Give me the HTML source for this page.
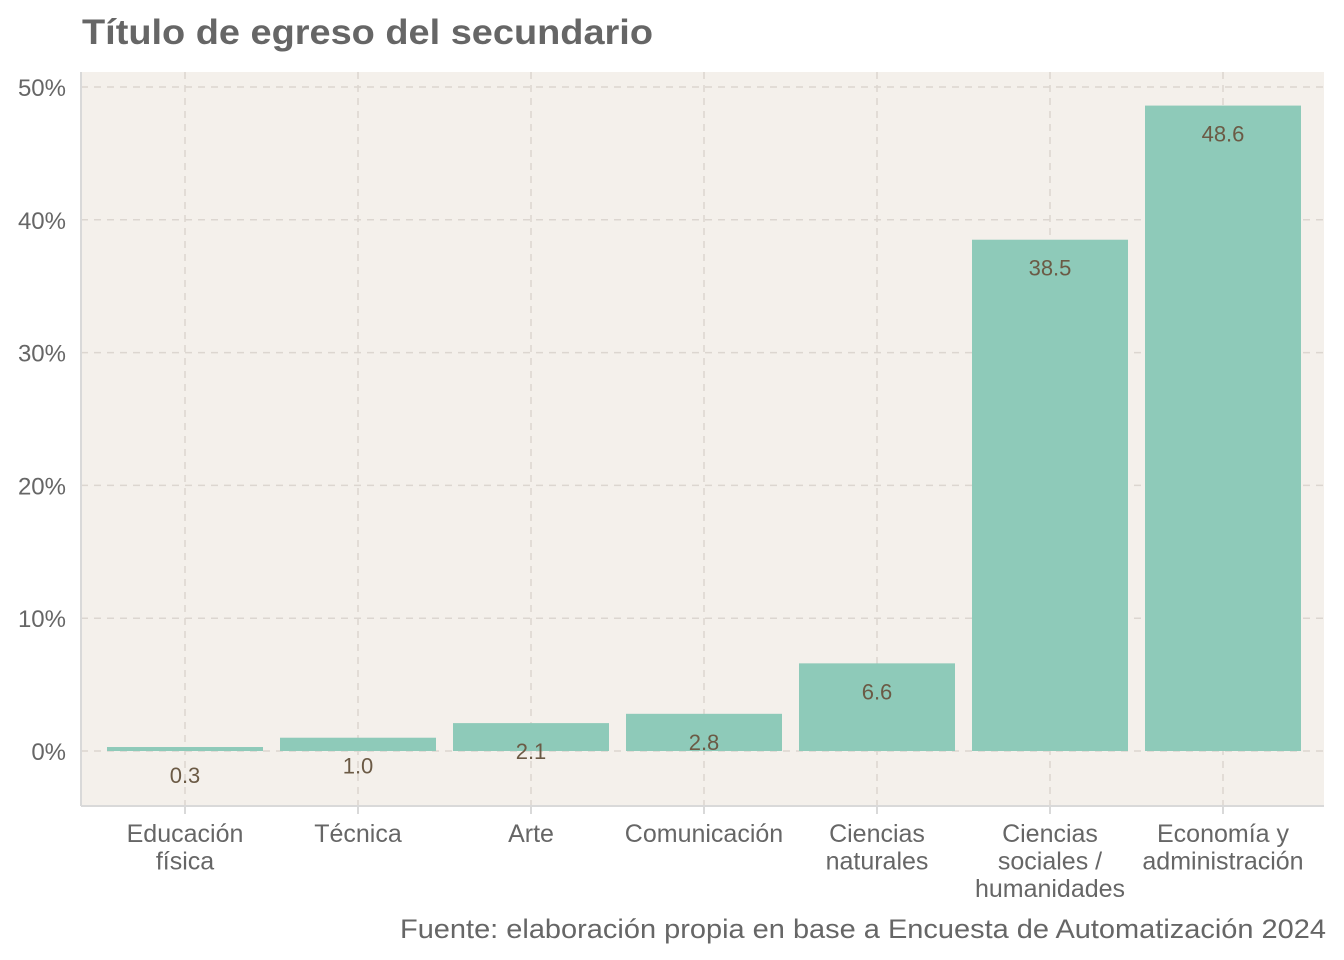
<!DOCTYPE html>
<html><head><meta charset="utf-8">
<style>
html,body{margin:0;padding:0;background:#fff;}
svg{display:block;font-family:"Liberation Sans",Arial,sans-serif;}
</style></head>
<body>
<svg id="chart" width="1344" height="960" viewBox="0 0 1344 960" xmlns="http://www.w3.org/2000/svg">
<text x="82" y="44" font-size="35" font-weight="bold" fill="#666666" textLength="571" lengthAdjust="spacingAndGlyphs">Título de egreso del secundario</text>
<rect x="81" y="72" width="1243" height="734" fill="#f4f0eb"/>
<g id="grid"></g>
<g id="bars"></g>
<g id="labels"></g>
<line x1="81" y1="806" x2="1324" y2="806" stroke="#d9d9d9" stroke-width="2"/>
<line x1="81" y1="72" x2="81" y2="806" stroke="#d9d9d9" stroke-width="2"/>
<g id="axes"></g>
<text x="400" y="938" font-size="27" fill="#666666" textLength="926" lengthAdjust="spacingAndGlyphs">Fuente: elaboración propia en base a Encuesta de Automatización 2024</text>
</svg>
<script>
const categories = [["Educación","física"],["Técnica"],["Arte"],["Comunicación"],["Ciencias","naturales"],["Ciencias","sociales /","humanidades"],["Economía y","administración"]];
const values = [0.3, 1.0, 2.1, 2.8, 6.6, 38.5, 48.6];
const yTicks = [0, 10, 20, 30, 40, 50];
const yTickLabels = ["0%","10%","20%","30%","40%","50%"];

const NS = "http://www.w3.org/2000/svg";
const y = v => 751 - v * 13.28;
const x = i => 185 + i * 173;
const bw = 156;
function mk(tag, attrs, parent){const e=document.createElementNS(NS,tag);for(const k in attrs)e.setAttribute(k,attrs[k]);parent.appendChild(e);return e;}
const grid=document.getElementById('grid'), bars=document.getElementById('bars'), labels=document.getElementById('labels'), axes=document.getElementById('axes');

yTicks.forEach((t,i)=>{
  const g=mk('line',{x1:81,x2:1324,y1:y(t),y2:y(t),stroke:'#dcd6d0','stroke-width':1.5,'stroke-dasharray':'7,6'},grid);
  
  
  const tl=mk('text',{x:66,y:y(t)+9,'font-size':24,fill:'#666666','text-anchor':'end'},axes);
  tl.textContent=yTickLabels[i];
  
  
});
categories.forEach((c,i)=>{
  const g=mk('line',{x1:x(i),x2:x(i),y1:72,y2:806,stroke:'#dcd6d0','stroke-width':1.5,'stroke-dasharray':'7,6'},grid);
  
  
  const tk=mk('line',{x1:x(i),x2:x(i),y1:806,y2:814,stroke:'#d9d9d9','stroke-width':2},axes);
  
  
  const t=mk('text',{x:x(i),'font-size':25,fill:'#666666','text-anchor':'middle'},axes);
  
  
  c.forEach((line,j)=>{const ts=mk('tspan',{x:x(i),y:842+j*27.5},t);ts.textContent=line;});
});
values.forEach((v,i)=>{
  const r=mk('rect',{x:x(i)-bw/2,y:y(v),width:bw,height:y(0)-y(v),fill:'#8ecab9'},bars);
  
  
  const l=mk('text',{x:x(i),y:y(v)+36,'font-size':22,fill:'#6b5a45','text-anchor':'middle'},labels);
  l.textContent=v.toFixed(1);
  
  
});
</script>
</body></html>
